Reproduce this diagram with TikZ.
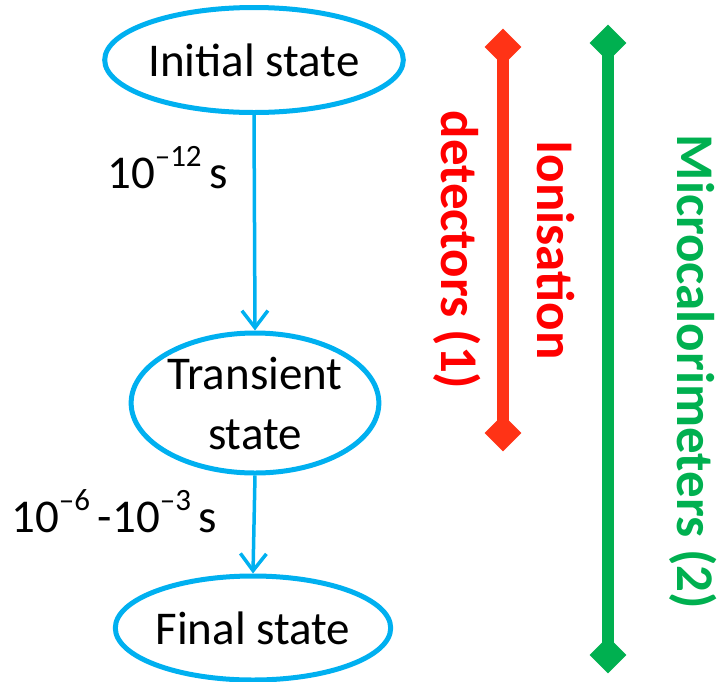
\documentclass[tikz,border=0pt]{standalone}
\usepackage{fontspec}
\setmainfont{Carlito}
\usetikzlibrary{arrows.meta,shapes.geometric}

\definecolor{stateblue}{HTML}{00B0F0}
\definecolor{ionred}{HTML}{FF3316}
\definecolor{ionredtext}{HTML}{FF0000}
\definecolor{calgreen}{HTML}{00B050}

\newcommand{\expo}[1]{\raisebox{0.45em}{\fontsize{31}{31}\selectfont #1}}

\tikzset{
  statenode/.style={ellipse, draw=stateblue, line width=5pt, inner sep=0pt,
    font=\fontsize{47}{60}\selectfont, align=center},
  flow/.style={draw=stateblue, line width=3.5pt,
    -{Straight Barb[length=17pt,width=26pt,line width=3.5pt]}},
  timelabel/.style={font=\fontsize{47}{57}\selectfont, anchor=base west, inner sep=0pt},
  endmark/.style={diamond, fill=#1, draw=none, inner sep=0pt, minimum size=37pt},
  rangebar/.style={line width=12pt, draw=#1},
  rangelabel/.style={font=\fontsize{53}{60}\selectfont\bfseries, rotate=-90, inner sep=0pt}
}

\begin{document}
\begin{tikzpicture}[x=1pt,y=-1pt]
  \useasboundingbox (0,0) rectangle (721,681);

  % states
  \node[statenode, minimum width=245pt, minimum height=105pt] (init) at (254,60) {Initial state};
  \node[statenode, minimum width=246pt, minimum height=140pt] (trans) at (255,403) {Transient\\state};
  \node[statenode, minimum width=240pt, minimum height=104pt] (final) at (253,628) {Final state};

  % transitions
  \draw[flow] (init.south) -- (trans.north);
  \draw[flow] (trans.south) -- (final.north);

  \node[timelabel] (t1) at (107,188) {10\expo{–12}\,s};
  \node[timelabel] (t2) at (11,532) {10\expo{–6}\,-10\expo{–3}\,s};

  % ionisation detector range
  \node[endmark=ionred] (r1) at (503,47) {};
  \node[endmark=ionred] (r2) at (503,433) {};
  \draw[rangebar=ionred] (r1.center) -- (r2.center);
  \node[rangelabel, text=ionredtext] (ion) at (556,250) {Ionisation};
  \node[rangelabel, text=ionredtext] (det) at (457,250) {detectors (1)};

  % microcalorimeter range
  \node[endmark=calgreen] (g1) at (608,43) {};
  \node[endmark=calgreen] (g2) at (608,655) {};
  \draw[rangebar=calgreen] (g1.center) -- (g2.center);
  \node[rangelabel, text=calgreen] (mic) at (693,372) {Microcalorimeters (2)};
\end{tikzpicture}
\end{document}
